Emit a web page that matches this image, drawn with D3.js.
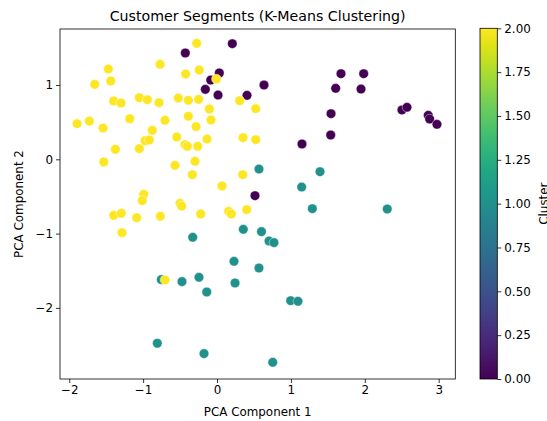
<!DOCTYPE html>
<html><head><meta charset="utf-8">
<script src="https://cdn.jsdelivr.net/npm/d3@7"></script>
<style>body{margin:0;background:#fff}svg{display:block}text{font-family:"DejaVu Sans",sans-serif;fill:#000}</style>
</head><body><svg id="c" width="547" height="421"></svg>
<script>
// Cluster 0 (purple)
const c0x=[-0.429,0.207,0.031,-0.085,-0.158,0.014,0.406,0.636,0.514,1.678,1.985,1.606,1.949,1.543,2.503,2.571,2.859,2.878,2.977,1.539,1.150];
const c0y=[1.431,1.556,1.162,1.067,0.942,0.865,0.861,1.000,-0.490,1.152,1.152,0.956,0.946,0.614,0.664,0.700,0.592,0.542,0.471,0.327,0.206];
// Cluster 1 (teal)
const c1x=[0.568,1.394,1.146,1.290,2.304,0.602,0.704,0.771,0.356,-0.329,0.230,0.568,-0.754,-0.474,-0.244,-0.139,0.244,0.997,1.096,0.754,-0.808,-0.176];
const c1y=[-0.131,-0.167,-0.373,-0.665,-0.669,-0.974,-1.100,-1.122,-0.942,-1.050,-1.373,-1.463,-1.620,-1.647,-1.588,-1.786,-1.665,-1.903,-1.911,-2.732,-2.476,-2.616];
// Cluster 2 (yellow)
const c2x=[-0.275,-0.771,-1.471,-0.424,-0.240,-1.438,-1.655,-0.009,-1.398,-1.299,-1.051,-0.943,-0.785,-0.524,-0.388,-0.248,-0.104,0.307,0.524,-1.894,-1.728,-1.543,-1.181,-0.704,-0.388,-0.081,-0.284,-0.876,-0.545,-0.974,-0.916,-0.433,-0.402,-0.261,-0.135,0.352,0.524,-1.376,-1.051,-1.533,-0.568,-0.298,-0.334,0.348,0.068,-0.992,-1.011,-0.501,-0.478,-1.398,-1.295,-1.087,-0.767,-0.221,0.158,0.194,0.402,-1.286,-0.704];
const c2y=[1.561,1.279,1.215,1.148,1.202,1.054,1.009,1.081,0.785,0.758,0.829,0.802,0.762,0.825,0.794,0.808,0.677,0.789,0.681,0.479,0.515,0.421,0.546,0.525,0.579,0.529,0.439,0.390,0.300,0.250,0.260,0.197,0.175,0.175,0.273,0.291,0.264,0.135,0.143,-0.036,-0.081,-0.027,-0.207,-0.207,-0.359,-0.471,-0.557,-0.592,-0.629,-0.754,-0.727,-0.786,-0.767,-0.736,-0.700,-0.736,-0.678,-0.988,-1.624];
const xTicks=[-2,-1,0,1,2,3];
const yTicks=[-2,-1,0,1];
const cbTicks=[0,0.25,0.5,0.75,1,1.25,1.5,1.75,2];
const clusters=[{k:0,x:c0x,y:c0y},{k:1,x:c1x,y:c1y},{k:2,x:c2x,y:c2y}];

const svg=d3.select("#c");
const L=60,R=455.3,T=29,B=379;
const x=d3.scaleLinear().domain([-2.125,3.225]).range([L,R]);
const y=d3.scaleLinear().domain([-2.957,1.754]).range([B,T]);
const col=d3.scaleSequential(d3.interpolateViridis).domain([0,2]);

const g=svg.append("g");
clusters.forEach(c=>{
  g.selectAll(null).data(c.x.map((v,i)=>[v,c.y[i]])).enter().append("circle")
   .attr("cx",d=>x(d[0])).attr("cy",d=>y(d[1])).attr("r",4.8)
   .attr("fill",col(c.k)).attr("stroke","#fff").attr("stroke-width",0.4);
});

const fs="11.9px";
const xa=svg.append("g").attr("transform",`translate(0,${B})`).call(d3.axisBottom(x).tickValues(xTicks).tickSize(4).tickPadding(3).tickFormat(d=>d<0?"\u2212"+(-d):d));
const ya=svg.append("g").attr("transform",`translate(${L},0)`).call(d3.axisLeft(y).tickValues(yTicks).tickSize(4).tickPadding(3).tickFormat(d=>d<0?"\u2212"+(-d):d));
[xa,ya].forEach(a=>{a.select(".domain").remove();a.selectAll("text").style("font-size",fs).attr("fill","#000");a.selectAll("line").attr("stroke","#000").attr("stroke-width",0.8);});
svg.append("rect").attr("x",L).attr("y",T).attr("width",R-L).attr("height",B-T).attr("fill","none").attr("stroke","#000").attr("stroke-width",0.8);

svg.append("text").attr("x",(L+R)/2).attr("y",21).attr("text-anchor","middle").style("font-size","14.2px").text("Customer Segments (K-Means Clustering)");
svg.append("text").attr("x",(L+R)/2).attr("y",416).attr("text-anchor","middle").style("font-size",fs).text("PCA Component 1");
svg.append("text").attr("transform",`translate(23,${(T+B)/2}) rotate(-90)`).attr("text-anchor","middle").style("font-size",fs).text("PCA Component 2");

// colorbar
const cbL=480,cbW=17.3,cbT=28.3,cbB=379;
const cy=d3.scaleLinear().domain([0,2]).range([cbB,cbT]);
const defs=svg.append("defs");
const grad=defs.append("linearGradient").attr("id","vg").attr("x1",0).attr("y1",1).attr("x2",0).attr("y2",0);
d3.range(0,1.0001,0.05).forEach(t=>grad.append("stop").attr("offset",t).attr("stop-color",d3.interpolateViridis(t)));
svg.append("rect").attr("x",cbL).attr("y",cbT).attr("width",cbW).attr("height",cbB-cbT).attr("fill","url(#vg)").attr("stroke","#000").attr("stroke-width",0.8);
const ca=svg.append("g").attr("transform",`translate(${cbL+cbW},0)`).call(d3.axisRight(cy).tickValues(cbTicks).tickSize(4).tickPadding(3).tickFormat(d3.format(".2f")));
ca.select(".domain").remove();ca.selectAll("text").style("font-size",fs).attr("fill","#000");ca.selectAll("line").attr("stroke","#000").attr("stroke-width",0.8);
svg.append("text").attr("transform",`translate(548,${(cbT+cbB)/2}) rotate(-90)`).attr("text-anchor","middle").style("font-size",fs).text("Cluster");
</script></body></html>
